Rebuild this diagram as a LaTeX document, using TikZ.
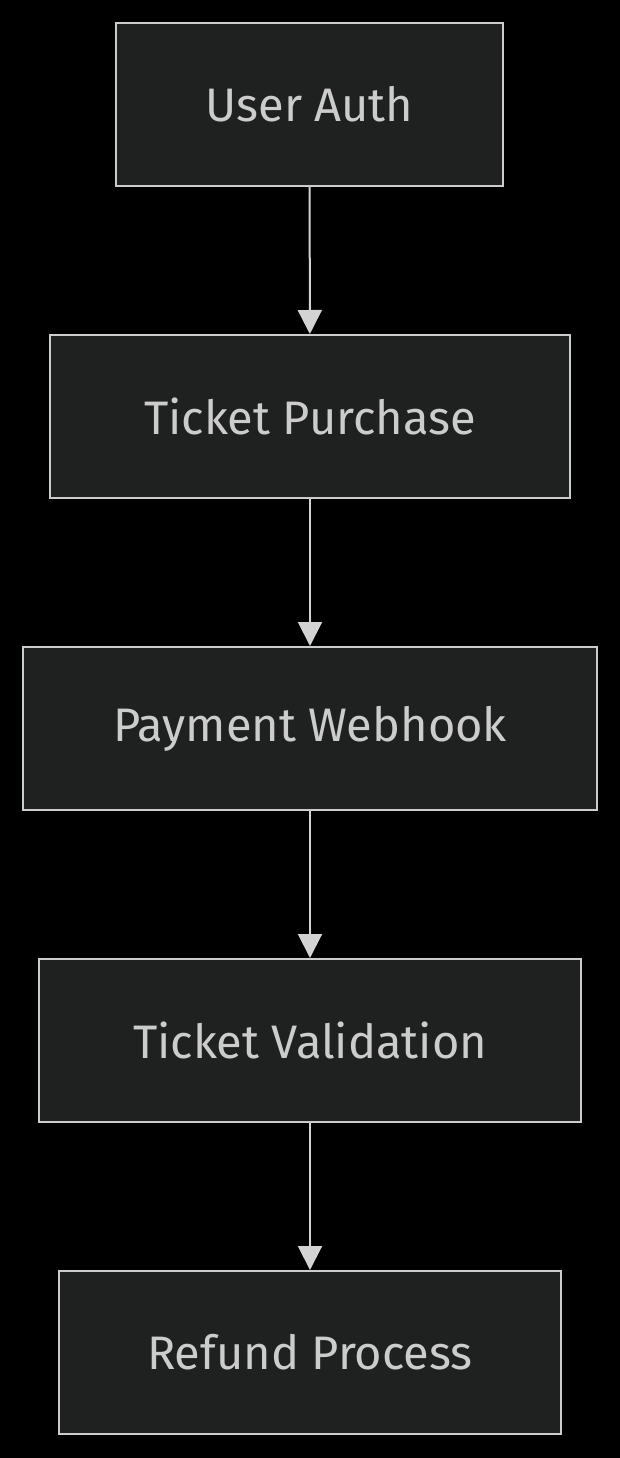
\documentclass[tikz,border=0pt]{standalone}
\usepackage{fontspec}
\setmainfont{Fira Sans}
\usetikzlibrary{arrows.meta}
\definecolor{boxfill}{HTML}{1F2020}
\definecolor{boxline}{HTML}{CCCCCC}
\definecolor{txt}{HTML}{CCCCCC}
\definecolor{arr}{HTML}{D3D3D3}
\tikzset{
  stepbox/.style={draw=boxline, line width=2pt, fill=boxfill, text=txt, minimum height=163pt, inner sep=0pt,
    font=\fontsize{47}{55}\selectfont},
  flow/.style={draw=arr, line width=2pt, -{Triangle[length=24pt,width=24pt]}}
}
\begin{document}
\begin{tikzpicture}[x=1pt,y=-1pt]
\fill[black] (0,0) rectangle (620,1458);
\useasboundingbox (0,0) rectangle (620,1458);
\node[stepbox, minimum width=387pt] (a) at (309.5,104.5) {User Auth};
\node[stepbox, minimum width=520pt] (b) at (310,416.5) {Ticket Purchase};
\node[stepbox, minimum width=574pt] (c) at (310,728.5) {Payment Webhook};
\node[stepbox, minimum width=542pt] (d) at (310,1040.5) {Ticket Validation};
\node[stepbox, minimum width=502pt] (e) at (310,1352.5) {Refund Process};
\draw[flow] (a) -- (b);
\draw[flow] (b) -- (c);
\draw[flow] (c) -- (d);
\draw[flow] (d) -- (e);
\end{tikzpicture}
\end{document}
